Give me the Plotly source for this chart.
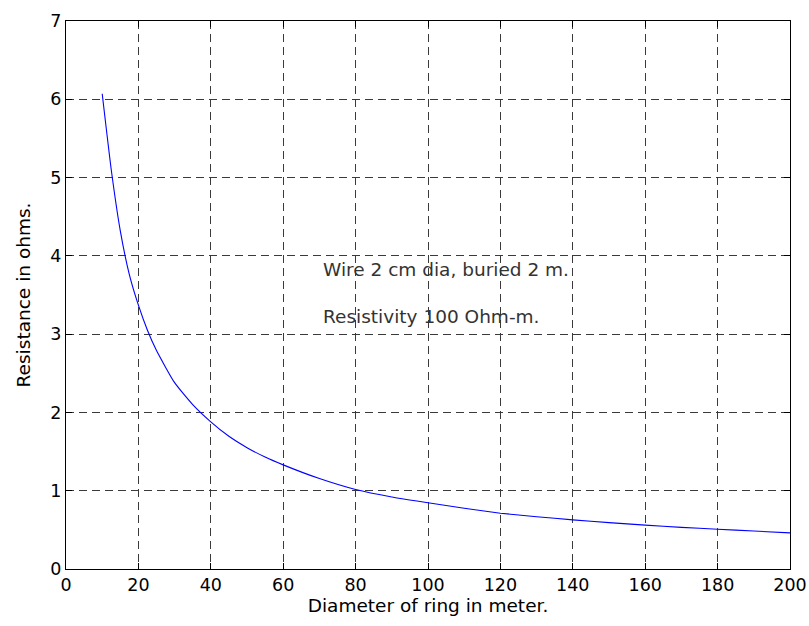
import plotly.graph_objects as go

# Ring electrode resistance vs ring diameter
diameter_m = [10, 12.5, 15, 17.5, 20, 22.5, 25, 30, 35, 40, 45, 50, 55, 60, 70,
              80, 90, 100, 110, 120, 130, 140, 150, 160, 170, 180, 190, 200]
resistance_ohm = [6.07, 5.1, 4.32, 3.76, 3.37, 3.05, 2.79, 2.38, 2.1, 1.88, 1.695,
                  1.55, 1.43, 1.33, 1.155, 1.015, 0.92, 0.846, 0.775, 0.713,
                  0.668, 0.628, 0.592, 0.56, 0.532, 0.508, 0.485, 0.462]

x_ticks = [0, 20, 40, 60, 80, 100, 120, 140, 160, 180, 200]
y_ticks = [0, 1, 2, 3, 4, 5, 6, 7]

notes = ["Wire 2 cm dia, buried 2 m.", "Resistivity 100 Ohm-m."]
note_x = [70.5, 70.5]
note_y = [3.83, 3.22]

FONT = "DejaVu Sans"

fig = go.Figure()
fig.add_trace(go.Scatter(
    x=diameter_m, y=resistance_ohm, mode="lines",
    line=dict(color="#0000ff", width=1.1, shape="spline", smoothing=0.5),
    showlegend=False, hoverinfo="x+y",
))

for txt, xv, yv in zip(notes, note_x, note_y):
    fig.add_annotation(x=xv, y=yv, text=txt, showarrow=False,
                       xanchor="left", yanchor="middle",
                       font=dict(family=FONT, size=18.5, color="#333333"))

axis_common = dict(
    showline=True, linecolor="black", linewidth=1.2, mirror="ticks",
    ticks="inside", ticklen=6, tickcolor="black", tickwidth=1,
    showgrid=True, gridcolor="#3a3a3a", gridwidth=1, griddash="8px,5px",
    zeroline=False, automargin=False,
    tickfont=dict(family=FONT, size=17.5, color="black"),
)

fig.update_xaxes(range=[0, 200], tickvals=x_ticks,
                 title=dict(text="Diameter of ring in meter.",
                            font=dict(family=FONT, size=18.5, color="black"),
                            standoff=4),
                 **axis_common)
fig.update_yaxes(range=[0, 7], tickvals=y_ticks,
                 title=dict(text="Resistance in ohms.",
                            font=dict(family=FONT, size=18.5, color="black"),
                            standoff=14),
                 **axis_common)

fig.update_layout(
    width=809, height=626,
    margin=dict(l=66, r=19, t=21, b=57),
    paper_bgcolor="white", plot_bgcolor="white",
)

fig.write_html("out.html")
